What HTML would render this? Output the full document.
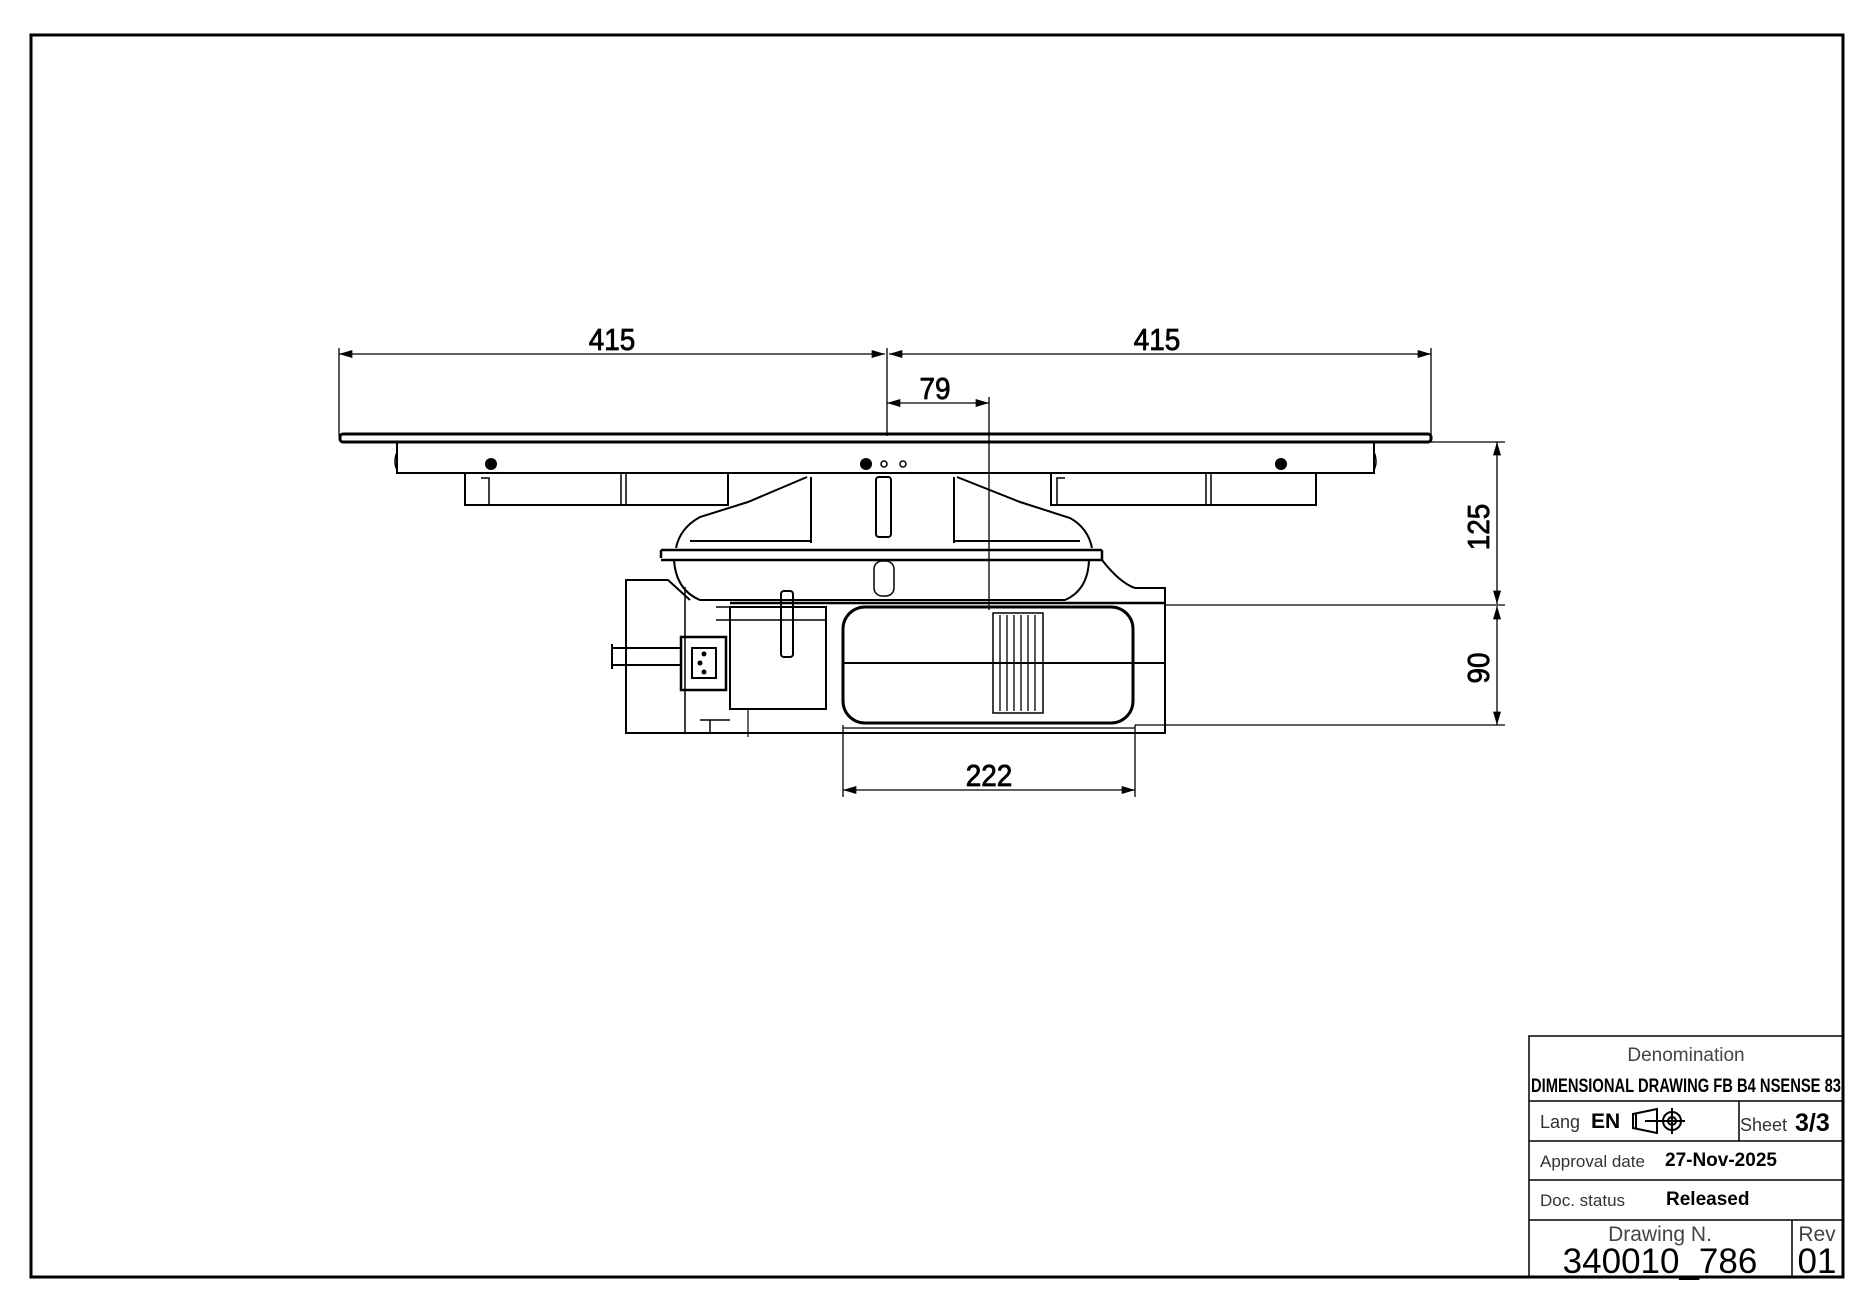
<!DOCTYPE html>
<html><head><meta charset="utf-8"><style>
html,body{margin:0;padding:0;background:#fff;}
svg{display:block;}
text{font-family:"Liberation Sans",sans-serif;}
</style></head><body>
<svg width="1876" height="1315" viewBox="0 0 1876 1315" xmlns="http://www.w3.org/2000/svg">
<defs>
<marker id="a" viewBox="0 0 10 6" refX="10" refY="3" markerWidth="20" markerHeight="8" markerUnits="userSpaceOnUse" orient="auto-start-reverse"><path d="M0,0 L10,3 L0,6 z" fill="#000"/></marker>
</defs>
<rect x="31" y="35" width="1812" height="1242" fill="none" stroke="#000" stroke-width="3"/>

<g stroke="#000" stroke-width="1.3" fill="none">
<line x1="339" y1="348" x2="339" y2="436"/>
<line x1="1431" y1="348" x2="1431" y2="436"/>
<line x1="887" y1="348" x2="887" y2="436"/>
<line x1="989" y1="397" x2="989" y2="610"/>
<line x1="339" y1="354" x2="885" y2="354" marker-start="url(#a)" marker-end="url(#a)"/>
<line x1="889" y1="354" x2="1431" y2="354" marker-start="url(#a)" marker-end="url(#a)"/>
<line x1="887" y1="403" x2="989" y2="403" marker-start="url(#a)" marker-end="url(#a)"/>
<line x1="1380" y1="442" x2="1505" y2="442"/>
<line x1="1165" y1="605" x2="1505" y2="605"/>
<line x1="1135" y1="725" x2="1505" y2="725"/>
<line x1="1497" y1="442" x2="1497" y2="604" marker-start="url(#a)" marker-end="url(#a)"/>
<line x1="1497" y1="606" x2="1497" y2="725" marker-start="url(#a)" marker-end="url(#a)"/>
<line x1="843" y1="725" x2="843" y2="797"/>
<line x1="1135" y1="725" x2="1135" y2="797"/>
<line x1="843" y1="790" x2="1135" y2="790" marker-start="url(#a)" marker-end="url(#a)"/>
</g>
<g font-size="31" text-anchor="middle" fill="#000" stroke="#000" stroke-width="0.8">
<text x="612" y="350" transform="translate(612 350) scale(0.9 1) translate(-612 -350)">415</text>
<text x="1157" y="350" transform="translate(1157 350) scale(0.9 1) translate(-1157 -350)">415</text>
<text x="935" y="399" transform="translate(935 399) scale(0.9 1) translate(-935 -399)">79</text>
<text x="989" y="786" transform="translate(989 786) scale(0.9 1) translate(-989 -786)">222</text>
<text transform="translate(1489 527) rotate(-90) scale(0.9 1)">125</text>
<text transform="translate(1489 668) rotate(-90) scale(0.9 1)">90</text>
</g>

<g stroke="#000" fill="none">
<rect x="340" y="434" width="1091" height="8" rx="3" stroke-width="3"/>
<path d="M397 442 V473 H1374 V442" stroke-width="2"/>
<path d="M397 452 q-4 10 0 18 M1374 452 q4 10 0 18" stroke-width="1.5"/>
<rect x="465" y="473" width="263" height="32" stroke-width="2"/>
<rect x="1051" y="473" width="265" height="32" stroke-width="2"/>
<path d="M481 478 h8 v27 M1065 478 h-8 v27 M621 473 v32 M626 473 v32 M1206 473 v32 M1211 473 v32" stroke-width="1.5"/>
</g>
<g fill="#000"><circle cx="491" cy="464" r="6"/><circle cx="866" cy="464" r="6"/><circle cx="1281" cy="464" r="6"/></g>
<g fill="none" stroke="#000" stroke-width="1.5"><circle cx="884" cy="464" r="3"/><circle cx="903" cy="464" r="3"/></g>

<g stroke="#000" fill="none" stroke-width="2">
<path d="M807 477 L748 502 L700 517 Q680 528 676 548"/>
<path d="M957 477 L1020 502 L1070 518 Q1088 528 1092 548"/>
<path d="M811 477 V543 M954 477 V543 M690 541 H811 M954 541 H1080"/>
<rect x="876" y="477" width="15" height="60" rx="3"/>
<path d="M661 550 H1102 M661 560 H1102 M661 550 v8 M1102 550 v10" stroke-width="2.5"/>
<path d="M674 560 Q676 590 700 600 H1065 Q1088 590 1089 560" stroke-width="2"/>
<rect x="874" y="561" width="20" height="35" rx="8" stroke-width="1.5"/>
<path d="M1102 560 Q1120 583 1135 588 H1165 V733 H626 V580 H668 L690 600" stroke-width="2"/>
<path d="M730 603 H1165" stroke-width="2.5"/>
<rect x="843" y="607" width="290" height="116" rx="22" stroke-width="3"/>
<path d="M843 663 H1165" stroke-width="2"/>
<rect x="993" y="613" width="50" height="100" stroke-width="1.5"/>
<path d="M1000 615 V711 M1007 615 V711 M1014 615 V711 M1021 615 V711 M1028 615 V711 M1035 615 V711" stroke-width="1.3"/>
<rect x="730" y="607" width="96" height="102" stroke-width="2"/>
<rect x="781" y="591" width="12" height="66" rx="3" stroke-width="2"/>
<path d="M716 607 H826 M716 620 H826" stroke-width="1.5"/>
<rect x="681" y="637" width="45" height="53" stroke-width="2.5"/>
<rect x="692" y="648" width="24" height="30" stroke-width="2"/>
<path d="M612 648 H681 M612 665 H681 M612 644 v25" stroke-width="2"/>
<path d="M685 587 V733 M700 720 H730 M710 720 V733" stroke-width="1.5"/>
<path d="M748 709 V737 M843 728 H1135" stroke-width="1.2"/>
</g>
<g fill="#000"><circle cx="704" cy="654" r="2.5"/><circle cx="700" cy="663" r="2.5"/><circle cx="704" cy="672" r="2.5"/></g>

<g stroke="#000" fill="none" stroke-width="1.5">
<rect x="1529" y="1036" width="314" height="241"/>
<line x1="1529" y1="1101" x2="1843" y2="1101"/>
<line x1="1529" y1="1141" x2="1843" y2="1141"/>
<line x1="1529" y1="1180" x2="1843" y2="1180"/>
<line x1="1529" y1="1220" x2="1843" y2="1220"/>
<line x1="1739" y1="1101" x2="1739" y2="1141"/>
<line x1="1792" y1="1220" x2="1792" y2="1277"/>
<path d="M1645 1121 H1665 M1633 1114 L1657 1109 V1133 L1633 1128 Z M1636 1114 v14 M1672 1108 v26 M1659 1121 h26" stroke-width="2"/>
<circle cx="1672" cy="1121" r="9" stroke-width="2"/><circle cx="1672" cy="1121" r="4" stroke-width="2"/>
</g>
<g fill="#000">
<text x="1686" y="1061" font-size="19" text-anchor="middle" fill="#444">Denomination</text>
<text x="1531" y="1092" font-size="19" font-weight="bold" textLength="310" lengthAdjust="spacingAndGlyphs">DIMENSIONAL DRAWING FB B4 NSENSE 83</text>
<text x="1540" y="1128" font-size="18" fill="#333">Lang</text>
<text x="1591" y="1128" font-size="21" font-weight="bold">EN</text>
<text x="1740" y="1131" font-size="18" fill="#333">Sheet</text>
<text x="1795" y="1131" font-size="25" font-weight="bold">3/3</text>
<text x="1540" y="1167" font-size="17" fill="#333">Approval date</text>
<text x="1665" y="1166" font-size="19" font-weight="bold">27-Nov-2025</text>
<text x="1540" y="1206" font-size="17" fill="#333">Doc. status</text>
<text x="1666" y="1205" font-size="19" font-weight="bold">Released</text>
<text x="1660" y="1241" font-size="21" text-anchor="middle" fill="#444">Drawing N.</text>
<text x="1660" y="1273" font-size="35" text-anchor="middle">340010_786</text>
<text x="1817" y="1241" font-size="21" text-anchor="middle" fill="#444">Rev</text>
<text x="1817" y="1273" font-size="35" text-anchor="middle">01</text>
</g>
</svg>
</body></html>
